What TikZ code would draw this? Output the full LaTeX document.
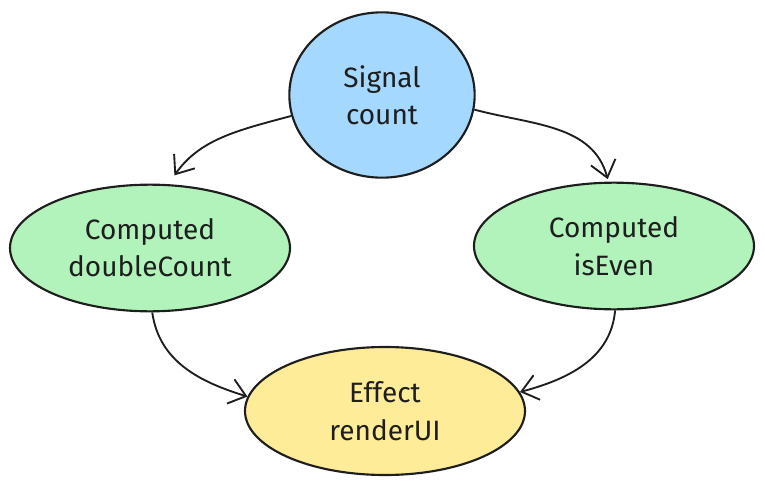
\documentclass[tikz,border=0pt]{standalone}
\usepackage{fontspec}
\setmainfont{Fira Sans}
\usetikzlibrary{shapes.geometric, arrows.meta}

\definecolor{ink}{HTML}{1E1E1E}
\definecolor{sigblue}{HTML}{A5D8FF}
\definecolor{compgreen}{HTML}{B2F2BB}
\definecolor{effyellow}{HTML}{FFEC99}
\tikzset{
  blob/.style={ellipse, draw=ink, line width=1.6pt, inner sep=0pt,
    align=center, text=ink, font=\fontsize{21}{28}\selectfont},
  signal/.style={blob, fill=sigblue, minimum width=139pt, minimum height=124pt},
  computed/.style={blob, fill=compgreen, minimum width=210pt, minimum height=95pt},
  effect/.style={blob, fill=effyellow, minimum width=210pt, minimum height=96pt},
  flow/.style={-{Straight Barb[length=12pt, width=19pt, line width=1.4pt]},
    line width=1.4pt, draw=ink}
}

\begin{document}
\begin{tikzpicture}[x=0.75pt, y=0.75pt]
        \useasboundingbox (0,0) rectangle (765,487);
        % Define the nodes
        \node[signal] (sig) at (382,392) {Signal\\count};
        \node[computed] (dbl) at (150,239) {Computed\\doubleCount};
        \node[computed] (even) at (614,241) {Computed\\isEven};
        \node[effect] (fx) at (385,76) {Effect\\renderUI};

        % Define the dependencies
        \path
        (sig.193) edge[flow, out=195, in=55, shorten >=8pt] (dbl.74)
        (sig.-9) edge[flow, out=-15, in=105, shorten >=2pt] (even.95)
        (dbl.-88) edge[flow, out=-82, in=163] (fx.174)
        (even.-89) edge[flow, out=-95, in=15] (fx.8);
    \end{tikzpicture}
\end{document}
